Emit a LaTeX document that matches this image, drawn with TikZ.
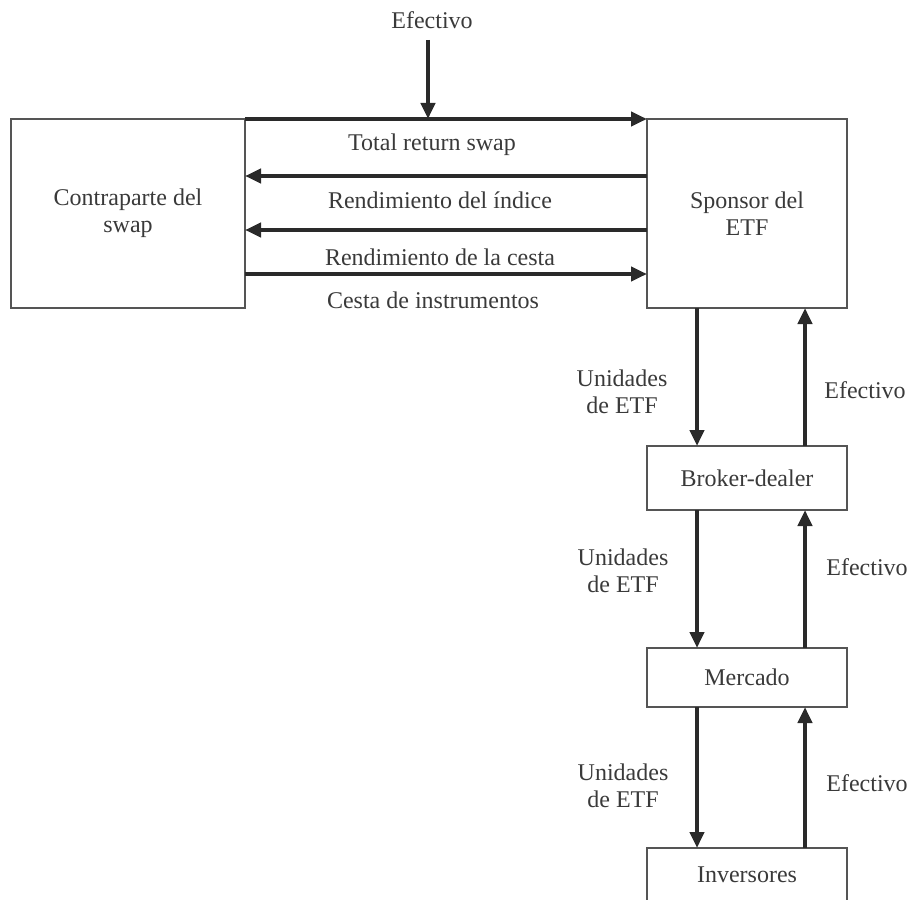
\documentclass[tikz,border=0pt]{standalone}
\usepackage{fontspec}
\setmainfont{Liberation Serif}
\usetikzlibrary{arrows.meta}
\definecolor{ink}{HTML}{2A2A2A}
\definecolor{txt}{HTML}{3A3A3A}
\begin{document}
\begin{tikzpicture}[x=0.5pt,y=-0.5pt,
  box/.style={draw=ink!80, line width=0.8pt, fill=white, outer sep=0pt, inner sep=0pt, align=center, font=\fontsize{12}{13.5}\selectfont, text=txt},
  lbl/.style={font=\fontsize{12}{13.5}\selectfont, text=txt, align=center, inner sep=0pt},
  arr/.style={draw=ink, line width=2pt, -{Triangle[length=8pt,width=7pt]}}]
\useasboundingbox (0,0) rectangle (914,899);
\clip (0,0) rectangle (914,899);
% boxes
\node[box, minimum width=117pt, minimum height=94.5pt] (L) at (128,213.5) {Contraparte del\\swap};
\node[box, minimum width=100pt, minimum height=94.5pt] (S) at (747,213.5) {Sponsor del\\ETF};
\node[box, minimum width=100pt, minimum height=32pt] (B) at (747,478) {Broker-dealer};
\node[box, minimum width=100pt, minimum height=29.5pt] (M) at (747,677.5) {Mercado};
\node[box, minimum width=100pt, minimum height=40pt, text depth=0pt] (I) at (747,888) {};
\node[lbl] at (747,875) {Inversores};
% top Efectivo
\node[lbl] (E) at (432,20) {Efectivo};
\coordinate (Etop) at (428,40);
\draw[arr] (Etop) -- (Etop |- L.north);
% horizontal arrows
\draw[arr] (L.north east) -- (S.north west);
\draw[arr] (S.west |- 0,176) -- (L.east |- 0,176);
\draw[arr] (S.west |- 0,230) -- (L.east |- 0,230);
\draw[arr] (L.east |- 0,274) -- (S.west |- 0,274);
\node[lbl] at (432,145) {Total return swap};
\node[lbl] at (440,200) {Rendimiento del índice};
\node[lbl] at (440,257) {Rendimiento de la cesta};
\node[lbl] at (433,300) {Cesta de instrumentos};
% vertical arrows
\draw[arr] (S.south -| 697,0) -- (B.north -| 697,0);
\draw[arr] (B.north -| 805,0) -- (S.south -| 805,0);
\draw[arr] (B.south -| 697,0) -- (M.north -| 697,0);
\draw[arr] (M.north -| 805,0) -- (B.south -| 805,0);
\draw[arr] (M.south -| 697,0) -- (I.north -| 697,0);
\draw[arr] (I.north -| 805,0) -- (M.south -| 805,0);
% side labels
\node[lbl] at (622,392) {Unidades\\de ETF};
\node[lbl] at (865,390) {Efectivo};
\node[lbl] at (623,571) {Unidades\\de ETF};
\node[lbl] at (867,567) {Efectivo};
\node[lbl] at (623,786) {Unidades\\de ETF};
\node[lbl] at (867,783) {Efectivo};
\end{tikzpicture}
\end{document}
